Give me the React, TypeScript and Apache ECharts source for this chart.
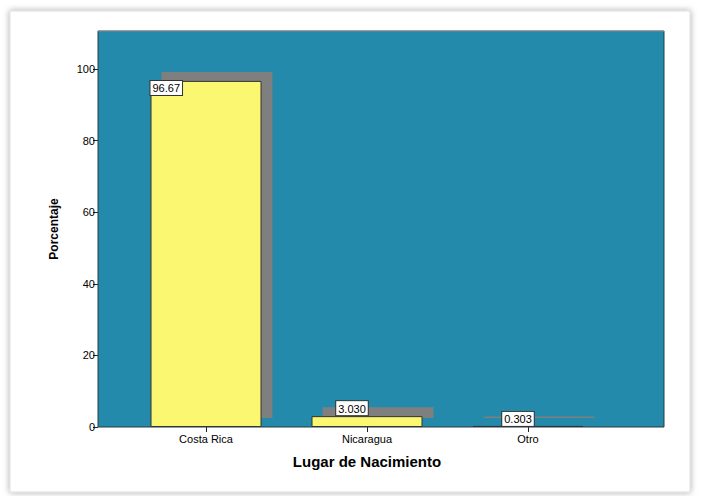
import React, { useEffect, useRef } from "react";
import * as echarts from "echarts";

const categories = ["Costa Rica", "Nicaragua", "Otro"];
const values = [96.67, 3.03, 0.303];
const valueLabels = ["96.67", "3.030", "0.303"];
const yTicks = [0, 20, 40, 60, 80, 100];
const yMax = 110.6;

export default function App() {
  const ref = useRef<HTMLDivElement>(null);
  useEffect(() => {
    if (!ref.current) return;
    const chart = echarts.init(ref.current, null, { renderer: "svg" });
    const font = "Liberation Sans, Arial, sans-serif";
    const labelPos: any[] = [
      { position: "insideTopLeft", distance: 0, offset: [0, 0] },
      { position: "top", distance: 1, offset: [-15, 0] },
      { position: "top", distance: 0, offset: [-10, 0] },
    ];
    chart.setOption({
      animation: false,
      backgroundColor: "#ffffff",
      graphic: [
        {
          type: "rect",
          z: -20,
          shape: { x: 10, y: 11, width: 680, height: 481 },
          style: {
            fill: "#ffffff",
            stroke: "#dddddd",
            lineWidth: 1,
            shadowBlur: 6,
            shadowColor: "rgba(0,0,0,0.35)",
            shadowOffsetX: 0,
            shadowOffsetY: 0,
          },
        },
        {
          type: "rect",
          z: -10,
          shape: { x: 98, y: 31, width: 566, height: 396 },
          style: { fill: "#238aab" },
        },
        {
          type: "rect",
          z: 100,
          shape: { x: 98, y: 31, width: 566, height: 396 },
          style: { fill: "none", stroke: "#2b3a40", lineWidth: 1 },
        },
        {
          type: "line",
          z: 100,
          shape: { x1: 98, y1: 31, x2: 664, y2: 31 },
          style: { stroke: "#8aa9b4", lineWidth: 1 },
        },
      ],
      grid: { left: 125.5, top: 31, width: 483, height: 396 },
      xAxis: {
        type: "category",
        data: categories,
        name: "Lugar de Nacimiento",
        nameLocation: "middle",
        nameGap: 27,
        nameTextStyle: { fontFamily: font, fontSize: 15, fontWeight: "bold", color: "#000" },
        axisLine: { show: false },
        axisTick: { show: true, alignWithLabel: true, length: 5, lineStyle: { color: "#222" } },
        axisLabel: { fontFamily: font, fontSize: 11, color: "#000", margin: 6 },
      },
      yAxis: {
        type: "value",
        min: 0,
        max: yMax,
        interval: 20,
        offset: 27.5,
        name: "Porcentaje",
        nameLocation: "middle",
        nameGap: 38,
        nameTextStyle: { fontFamily: font, fontSize: 12, fontWeight: "bold", color: "#000" },
        axisLine: { show: false },
        splitLine: { show: false },
        axisTick: { show: true, length: 5, lineStyle: { color: "#222" }, customValues: yTicks },
        axisLabel: { fontFamily: font, fontSize: 11, color: "#000", margin: 3, customValues: yTicks },
      },
      series: [
        {
          type: "custom",
          z: 1,
          data: values.map((v, i) => [i, v]),
          encode: { x: 0, y: 1 },
          renderItem: (params: any, api: any) => {
            const top = api.coord([api.value(0), api.value(1)]);
            const base = api.coord([api.value(0), 0]);
            const w = 111;
            const h = Math.max(base[1] - top[1], 1.5);
            return {
              type: "rect",
              shape: { x: top[0] - w / 2 + 11, y: base[1] - h - 9, width: w, height: h },
              style: { fill: "#7f7f7f" },
            };
          },
        },
        {
          type: "bar",
          z: 2,
          barWidth: 111,
          data: values.map((v, i) => ({
            value: v,
            label: { show: true, formatter: valueLabels[i], ...labelPos[i] },
          })),
          itemStyle: { color: "#fbf770", borderColor: "#333333", borderWidth: 1 },
          label: {
            show: true,
            fontFamily: font,
            fontSize: 11,
            color: "#000",
            backgroundColor: "#ffffff",
            borderColor: "#333333",
            borderWidth: 1,
            padding: [2, 2, 1, 2],
          },
        },
      ],
    });
    return () => chart.dispose();
  }, []);
  return (
    <div
      ref={ref}
      style={{ position: "fixed", left: 0, top: 0, width: 701, height: 496 }}
    />
  );
}
